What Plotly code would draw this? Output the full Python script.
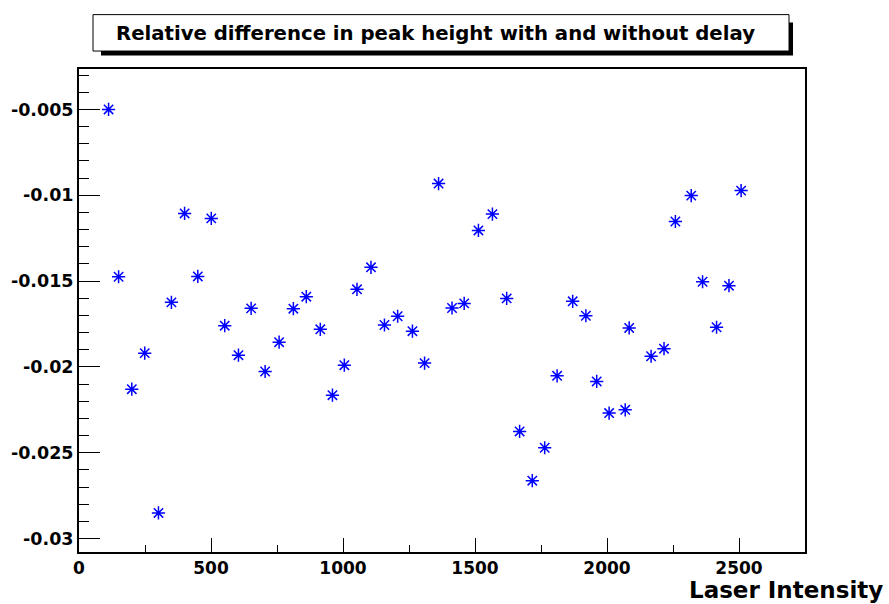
import plotly.graph_objects as go

# ---- data ----
laser_intensity = [112, 150, 200, 249, 301, 350, 400, 450, 501, 552,
                   604, 652, 705, 758, 812, 861, 914, 960, 1005, 1053,
                   1106, 1157, 1207, 1263, 1309, 1362, 1413, 1459, 1513, 1566,
                   1620, 1669, 1717, 1764, 1811, 1870, 1920, 1961, 2008, 2069,
                   2084, 2167, 2216, 2259, 2319, 2362, 2415, 2462, 2508]
rel_diff = [-0.00500, -0.01475, -0.02130, -0.01920, -0.02851, -0.01624, -0.01106, -0.01473, -0.01135, -0.01760,
            -0.01932, -0.01659, -0.02027, -0.01856, -0.01661, -0.01591, -0.01781, -0.02165, -0.01990, -0.01548,
            -0.01420, -0.01756, -0.01705, -0.01792, -0.01978, -0.00932, -0.01657, -0.01630, -0.01205, -0.01110,
            -0.01601, -0.02376, -0.02663, -0.02471, -0.02052, -0.01618, -0.01702, -0.02085, -0.02269, -0.02250,
            -0.01773, -0.01938, -0.01894, -0.01153, -0.01002, -0.01504, -0.01769, -0.01527, -0.00973]

x_tick_vals = [0, 500, 1000, 1500, 2000, 2500]
x_tick_text = ["0", "500", "1000", "1500", "2000", "2500"]
y_tick_vals = [-0.005, -0.01, -0.015, -0.02, -0.025, -0.03]
y_tick_text = ["-0.005", "-0.01", "-0.015", "-0.02", "-0.025", "-0.03"]

title_text = "Relative difference in peak height with and without delay"
x_title = "Laser Intensity"

W, H = 889, 604
L, R, T, B = 79, 805, 68.5, 552.5


def px(xp):
    return (xp - L) / (R - L)


def py(yp):
    return (B - yp) / (B - T)


FONT = "DejaVu Sans"

fig = go.Figure()
fig.add_trace(go.Scatter(
    x=laser_intensity, y=rel_diff, mode="markers",
    marker=dict(symbol="asterisk-open", size=11, color="#0000ff",
                line=dict(color="#0000ff", width=1.5)),
    showlegend=False, hoverinfo="x+y"))

fig.update_layout(
    width=W, height=H,
    margin=dict(l=L, r=W - R, t=T, b=H - B, pad=0),
    paper_bgcolor="white", plot_bgcolor="white",
    showlegend=False,
    xaxis=dict(range=[0, 2750], showgrid=False, zeroline=False,
               showline=True, linecolor="#000", linewidth=2, mirror=True,
               ticks="inside", ticklen=14, tickwidth=1, tickcolor="#000",
               tickvals=x_tick_vals, ticktext=x_tick_text,
               tickfont=dict(family=FONT, size=17, color="#000", weight="bold"),
               minor=dict(ticks="inside", ticklen=7, tickwidth=1, tickcolor="#000",
                          tick0=0, dtick=250, showgrid=False)),
    yaxis=dict(range=[-0.030785, -0.002645], showgrid=False, zeroline=False,
               showline=True, linecolor="#000", linewidth=2, mirror=True,
               ticks="inside", ticklen=21, tickwidth=1, tickcolor="#000",
               tickvals=y_tick_vals, ticktext=y_tick_text,
               tickfont=dict(family=FONT, size=17.5, color="#000", weight="bold"),
               minor=dict(ticks="inside", ticklen=10, tickwidth=1, tickcolor="#000",
                          tick0=0, dtick=0.001, showgrid=False)),
)

# Title box with shadow (ROOT TPaveText style)
fig.add_shape(type="rect", xref="paper", yref="paper",
              x0=px(101), x1=px(793), y0=py(55), y1=py(22),
              fillcolor="#000", line=dict(width=0), layer="above")
fig.add_shape(type="rect", xref="paper", yref="paper",
              x0=px(93), x1=px(789), y0=py(50.5), y1=py(14),
              fillcolor="white", line=dict(color="#000", width=1), layer="above")
fig.add_annotation(text=title_text, xref="paper", yref="paper",
                   x=px(435.5), y=py(33), xanchor="center", yanchor="middle",
                   showarrow=False,
                   font=dict(family=FONT, size=19.7, color="#000", weight="bold"))

# X axis title, right aligned at the bottom
fig.add_annotation(text=x_title, xref="paper", yref="paper",
                   x=px(885), y=py(591), xanchor="right", yanchor="middle",
                   showarrow=False,
                   font=dict(family=FONT, size=23, color="#000", weight="bold"))

fig.write_html("out.html",
               config={"displayModeBar": False},
               post_script="document.body.style.margin='0px';document.body.style.overflow='hidden';")
